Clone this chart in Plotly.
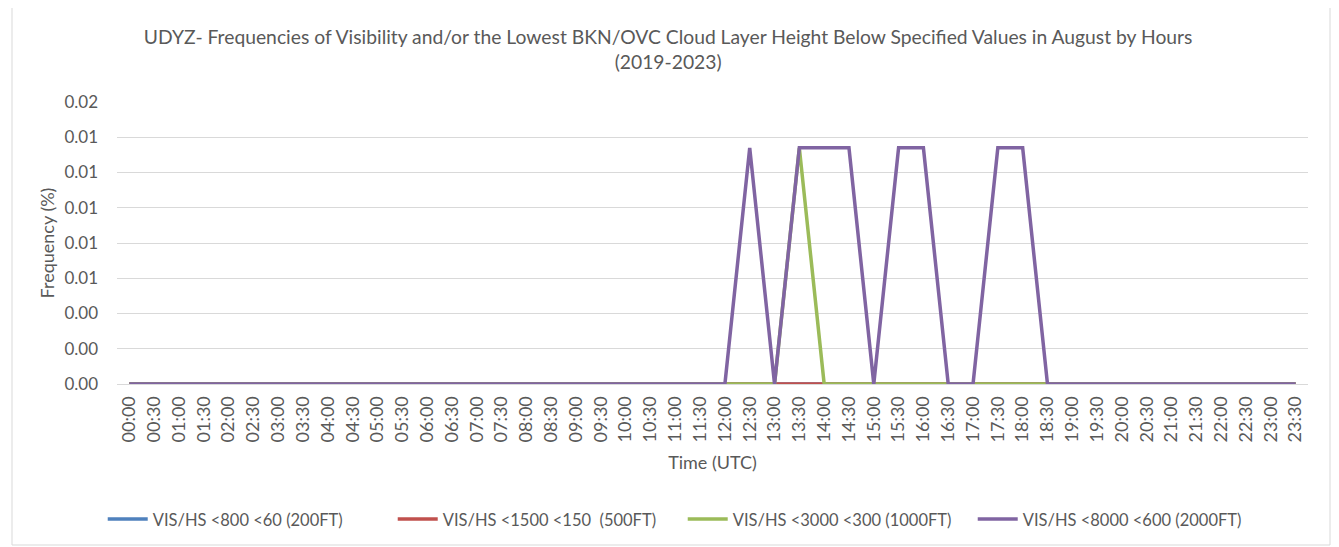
import plotly.graph_objects as go

# half-hour time slots (UTC)
times = ["%02d:%02d" % (h, m) for h in range(24) for m in (0, 30)]

peak = 0.0134

vis_800 = [0.0] * 48
vis_1500 = [0.0] * 48
vis_3000 = [0.0] * 24 + [0.0, 0.0, 0.0, peak, 0.0] + [0.0] * 19
vis_8000 = ([0.0] * 24
            + [0.0, peak, 0.0, peak, peak, peak, 0.0, peak, peak, 0.0, 0.0, peak, peak, 0.0]
            + [0.0] * 10)

series = [
    ("VIS/HS <800 <60 (200FT)", vis_800, "#4F81BD"),
    ("VIS/HS <1500 <150  (500FT)", vis_1500, "#C0504D"),
    ("VIS/HS <3000 <300 (1000FT)", vis_3000, "#9BBB59"),
    ("VIS/HS <8000 <600 (2000FT)", vis_8000, "#8064A2"),
]

fig = go.Figure()

for name, vals, color in series:
    fig.add_trace(go.Scatter(
        x=times,
        y=vals,
        mode='lines',
        name=name,
        line=dict(color=color, width=3.5)
    ))

txt = "#595959"
fig.update_layout(
    width=1339,
    height=547,
    template="plotly_white",
    font=dict(family="Lato", color=txt, size=15),
    title=dict(
        text="UDYZ- Frequencies of Visibility and/or the Lowest BKN/OVC Cloud Layer Height Below Specified Values in August by Hours<br>(2019-2023)",
        x=0.493, xanchor="center", y=0.934, yanchor="middle",
        font=dict(size=19.3, color=txt)
    ),
    margin=dict(l=109, r=39, t=94, b=171, autoexpand=False),
    paper_bgcolor="white",
    plot_bgcolor="white",
    showlegend=True,
    legend=dict(
        orientation="h",
        x=0.475, xanchor="center",
        y=-0.48, yanchor="middle",
        font=dict(size=16.5, color=txt),
        bgcolor="rgba(0,0,0,0)",
        itemwidth=40,
        entrywidth=235,
        entrywidthmode="pixels",
        tracegroupgap=0,
    ),
    xaxis=dict(
        type="category",
        tickangle=-90,
        title=dict(text="Time (UTC)", font=dict(size=18, color=txt), standoff=14),
        showgrid=False,
        showline=True,
        linecolor="#D9D9D9",
        linewidth=1,
        tickfont=dict(size=18, color=txt),
        range=[-0.5, 47.5],
        zeroline=False,
        ticklabelstandoff=4,
    ),
    yaxis=dict(
        range=[0, 0.016],
        dtick=0.002,
        tickformat=".2f",
        title=dict(text="Frequency (%)", font=dict(size=18, color=txt), standoff=5),
        gridcolor="#D9D9D9",
        gridwidth=1,
        zeroline=False,
        tickfont=dict(size=17, color=txt),
        ticklabelstandoff=18,
    ),
)

# outer chart border
fig.add_shape(
    type="rect", xref="paper", yref="paper",
    x0=-105 / 1191, x1=1 + 22 / 1191, y0=-161 / 282, y1=1 + 101 / 282,
    line=dict(color="#D9D9D9", width=1)
)

fig.write_html("out.html")
